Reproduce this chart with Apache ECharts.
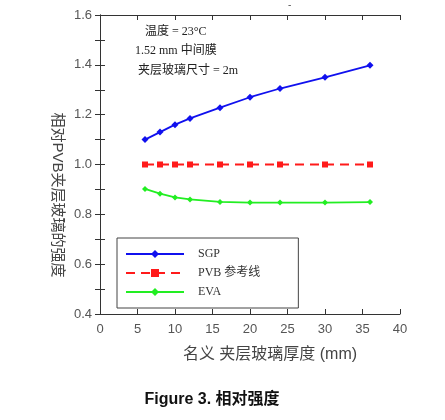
<!DOCTYPE html>
<html>
<head>
<meta charset="utf-8">
<script src="https://cdn.jsdelivr.net/npm/echarts@6.0.0/dist/echarts.min.js"></script>
<style>
  html, body { margin: 0; padding: 0; background: #fff; }
  #chart { width: 445px; height: 420px; }
</style>
</head>
<body>
<div id="chart"></div>
<script>
const thickness = [6, 8, 10, 12, 16, 20, 24, 30, 36]
const sgpValues = [1.10, 1.13, 1.16, 1.185, 1.228, 1.27, 1.305, 1.35, 1.398]
const pvbValues = [1.0, 1.0, 1.0, 1.0, 1.0, 1.0, 1.0, 1.0, 1.0]
const evaValues = [0.902, 0.883, 0.868, 0.86, 0.85, 0.847, 0.847, 0.847, 0.849]
const seriesNames = ['SGP', 'PVB 参考线', 'EVA']
const notes = ['温度 = 23°C', '1.52 mm 中间膜', '夹层玻璃尺寸 = 2m']

const pair = (vals) => thickness.map((x, i) => [x, vals[i]])

const serif = '"Liberation Serif", "Noto Sans CJK SC", serif'
const sans = '"Liberation Sans", "Noto Sans CJK SC", sans-serif'
const axisColor = '#333'

const tickStyle = {
  show: true,
  inside: true,
  length: 5,
  lineStyle: { color: axisColor },
}

const chart = echarts.init(document.getElementById('chart'))
chart.setOption({
  animation: false,
  grid: { left: 100, right: 45, top: 15, bottom: 106 },
  legend: {
    orient: 'vertical',
    left: 117,
    top: 238,
    padding: [10, 38, 10, 8],
    itemWidth: 58,
    itemHeight: 10,
    itemGap: 7,
    backgroundColor: '#fff',
    borderColor: '#444',
    borderWidth: 1,
    borderRadius: 0,
    textStyle: {
      fontFamily: serif,
      fontSize: 12,
      color: '#333',
      padding: [0, 0, 0, 9],
    },
    data: seriesNames,
  },
  xAxis: [
    {
      type: 'value',
      min: 0,
      max: 40,
      interval: 5,
      axisLine: { lineStyle: { color: axisColor } },
      axisTick: tickStyle,
      splitLine: { show: false },
      axisLabel: { color: '#555', fontFamily: sans, fontSize: 13, margin: 9 },
    },
    {
      type: 'value',
      position: 'top',
      min: 0,
      max: 40,
      interval: 5,
      axisLine: { show: true, lineStyle: { color: axisColor } },
      axisTick: tickStyle,
      splitLine: { show: false },
      axisLabel: { show: false },
    },
  ],
  yAxis: [
    {
      type: 'value',
      min: 0.4,
      max: 1.6,
      interval: 0.2,
      axisLine: { show: true, lineStyle: { color: axisColor } },
      axisTick: tickStyle,
      minorTick: { show: true, splitNumber: 2, length: 5, lineStyle: { color: axisColor } },
      splitLine: { show: false },
      minorSplitLine: { show: false },
      axisLabel: {
        color: '#555',
        fontFamily: sans,
        fontSize: 13,
        margin: 8,
        formatter: (v) => v.toFixed(1),
      },
    },
    {
      type: 'value',
      position: 'right',
      min: 0.4,
      max: 1.6,
      interval: 0.2,
      axisLine: { show: true, lineStyle: { color: axisColor } },
      axisTick: tickStyle,
      minorTick: { show: true, splitNumber: 2, length: 5, lineStyle: { color: axisColor } },
      splitLine: { show: false },
      minorSplitLine: { show: false },
      axisLabel: { show: false },
    },
  ],
  series: [
    {
      name: seriesNames[0],
      type: 'line',
      data: pair(sgpValues),
      symbol: 'diamond',
      symbolSize: 7,
      itemStyle: { color: '#1010ee' },
      lineStyle: { color: '#1010ee', width: 1.8 },
    },
    {
      name: seriesNames[1],
      type: 'line',
      data: pair(pvbValues),
      symbol: 'rect',
      symbolSize: 6,
      itemStyle: { color: '#ff1a1a' },
      lineStyle: { color: '#ff1a1a', width: 1.8, type: [9, 6] },
    },
    {
      name: seriesNames[2],
      type: 'line',
      data: pair(evaValues),
      symbol: 'diamond',
      symbolSize: 6,
      itemStyle: { color: '#22ee22' },
      lineStyle: { color: '#22ee22', width: 1.8 },
    },
  ],
  graphic: [
    {
      type: 'text',
      left: 145,
      top: 26,
      style: { text: notes[0], font: '12px ' + serif, fill: '#222' },
    },
    {
      type: 'text',
      left: 135,
      top: 45,
      style: { text: notes[1], font: '12px ' + serif, fill: '#222' },
    },
    {
      type: 'text',
      left: 138,
      top: 65,
      style: { text: notes[2], font: '12px ' + serif, fill: '#222' },
    },
    {
      type: 'text',
      x: 288,
      y: 0,
      style: { text: '-', font: '10px ' + sans, fill: '#555' },
    },
    {
      type: 'text',
      x: 57,
      y: 195,
      rotation: -Math.PI / 2,
      style: {
        text: '相对PVB夹层玻璃的强度',
        font: '15px ' + sans,
        fill: '#444',
        align: 'center',
        verticalAlign: 'middle',
      },
    },
    {
      type: 'text',
      x: 270,
      y: 355,
      style: {
        text: '名义 夹层玻璃厚度 (mm)',
        font: '16px ' + sans,
        fill: '#444',
        align: 'center',
        verticalAlign: 'middle',
      },
    },
    {
      type: 'text',
      x: 212,
      y: 400,
      style: {
        text: 'Figure 3. 相对强度',
        font: 'bold 16px ' + sans,
        fill: '#111',
        align: 'center',
        verticalAlign: 'middle',
      },
    },
  ],
})
</script>
</body>
</html>
